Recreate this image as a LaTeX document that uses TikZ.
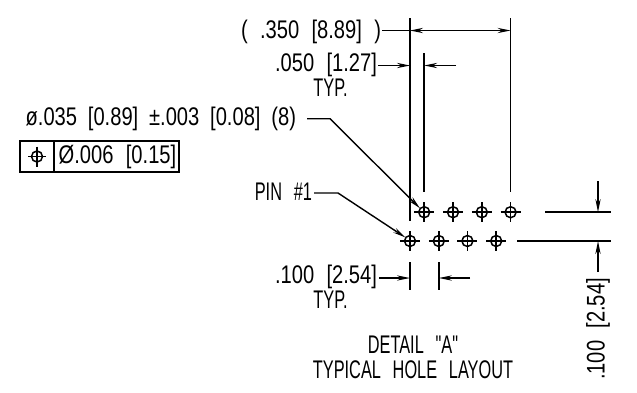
\documentclass[tikz,border=0pt]{standalone}
\usepackage{fontspec}
\setmainfont[FakeStretch=0.79,WordSpace=2.2]{Liberation Sans}
\newfontfamily\capf[FakeStretch=0.64,WordSpace=2.6]{Liberation Sans}
\usetikzlibrary{arrows.meta,calc}
\tikzset{
  every node/.style={font=\fontsize{25.5}{25.5}\selectfont,inner sep=0pt,outer sep=0pt,text=black},
  capnode/.style={font=\capf\fontsize{25.5}{25.5}\selectfont},
  dimline/.style={line width=1.4pt,draw=black},
  extline/.style={line width=1.5pt,draw=black},
  tipped/.style={dimline,-{Stealth[length=13pt,width=5.2pt]}},
  tippedboth/.style={dimline,{Stealth[length=13pt,width=5.2pt]}-{Stealth[length=13pt,width=5.2pt]}},
  holecirc/.style={circle,draw=black,line width=1.5pt,minimum size=11pt},
  framebox/.style={line width=1.5pt,draw=black},
}
\newcommand{\holemark}[3]{%
  \node[holecirc] (#1) at (#2,#3) {};
  \draw[line width=1.5pt] ($(#1.center)+(-10,0)$) -- ($(#1.center)+(10,0)$);
  \draw[line width=1.5pt] ($(#1.center)+(0,-10)$) -- ($(#1.center)+(0,10)$);
}
\begin{document}
\begin{tikzpicture}[x=1pt,y=-1pt]
\useasboundingbox (0,0) rectangle (637,392);
% holes
\holemark{ta}{424.2}{212.2}
\holemark{tb}{453}{212.2}
\holemark{tc}{481.8}{212.2}
\holemark{td}{510.6}{212.2}
\holemark{ba}{410}{241}
\holemark{bb}{438.8}{241}
\holemark{bc}{467.4}{241}
\holemark{bd}{496.2}{241}
% texts
\node[anchor=east] (t350) at (381,32) {( .350 [8.89] )};
\node[anchor=east] (t050) at (377,65) {.050 [1.27]};
\node[capnode] (t050b) at (330.5,88) {TYP.};
\node[anchor=east] (t035) at (296,119) {\spaceskip=10.8pt ø.035 [0.89] ±.003 [0.08] (8)};
\node[capnode,anchor=east] (tpin) at (312,192) {PIN \#1};
\node[anchor=east] (t100) at (377,277) {.100 [2.54]};
\node[capnode] (t100b) at (330.5,300) {TYP.};
\node[capnode] (tdet) at (413,344.5) {DETAIL "A"};
\node[capnode] (ttyp) at (413,370) {TYPICAL HOLE LAYOUT};
\node[rotate=90,anchor=east] (tv) at (598,278) {.100 [2.54]};
% feature frame
\node[framebox,draw,minimum width=34pt,minimum height=31pt] (fa) at (37,156.5) {};
\node[framebox,draw,minimum width=125pt,minimum height=31pt] (fb) at (116.5,156.5) {};
\node[anchor=center] (ft) at (117.5,157) {Ø.006 [0.15]};
\node[holecirc] (fs) at (fa.center) {};
\draw[line width=1.5pt] ($(fs.center)+(-9,0)$) -- ($(fs.center)+(9,0)$);
\draw[line width=1.5pt] ($(fs.center)+(0,-10)$) -- ($(fs.center)+(0,10)$);
% extension lines
\coordinate (e1t) at (410,18);
\coordinate (e1b) at (410,221);
\coordinate (e2t) at (424.2,53);
\coordinate (e2b) at (424.2,192);
\coordinate (e3t) at (510.6,18);
\coordinate (e3b) at (510.6,192);
\draw[extline] (e1t) -- (e1b);
\draw[extline] (e2t) -- (e2b);
\draw[extline] (e3t) -- (e3b);
% .350
\draw[dimline] (382,30.5) -- (410,30.5);
\draw[tippedboth] (410,30.5) -- (510.6,30.5);
% .050
\draw[tipped] (378,65.5) -- (410,65.5);
\draw[tipped] (456,65.5) -- (424.2,65.5);
% leaders
\coordinate (l1a) at (307,118.7);
\coordinate (l1b) at (330,118.7);
\coordinate (l1c) at (420,208.3);
\draw[tipped] (l1a) -- (l1b) -- (l1c);
\coordinate (l2a) at (314,193);
\coordinate (l2b) at (338,193);
\coordinate (l2c) at (405.5,237.5);
\draw[tipped] (l2a) -- (l2b) -- (l2c);
% .100 bottom
\coordinate (x1t) at (410,262);
\coordinate (x1b) at (410,290);
\coordinate (x2t) at (438.8,262);
\coordinate (x2b) at (438.8,290);
\draw[extline] (x1t) -- (x1b);
\draw[extline] (x2t) -- (x2b);
\draw[tipped] (379,278) -- (x1t |- 0,278);
\draw[tipped] (470,278) -- (x2t |- 0,278);
% right dim
\coordinate (r1a) at (545,212.2);
\coordinate (r1b) at (611,212.2);
\coordinate (r2a) at (517,241);
\coordinate (r2b) at (611,241);
\draw[extline] (r1a) -- (r1b);
\draw[extline] (r2a) -- (r2b);
\draw[tipped] (598,181) -- (598,212.2);
\draw[tipped] (598,272) -- (598,241);
\end{tikzpicture}
\end{document}
